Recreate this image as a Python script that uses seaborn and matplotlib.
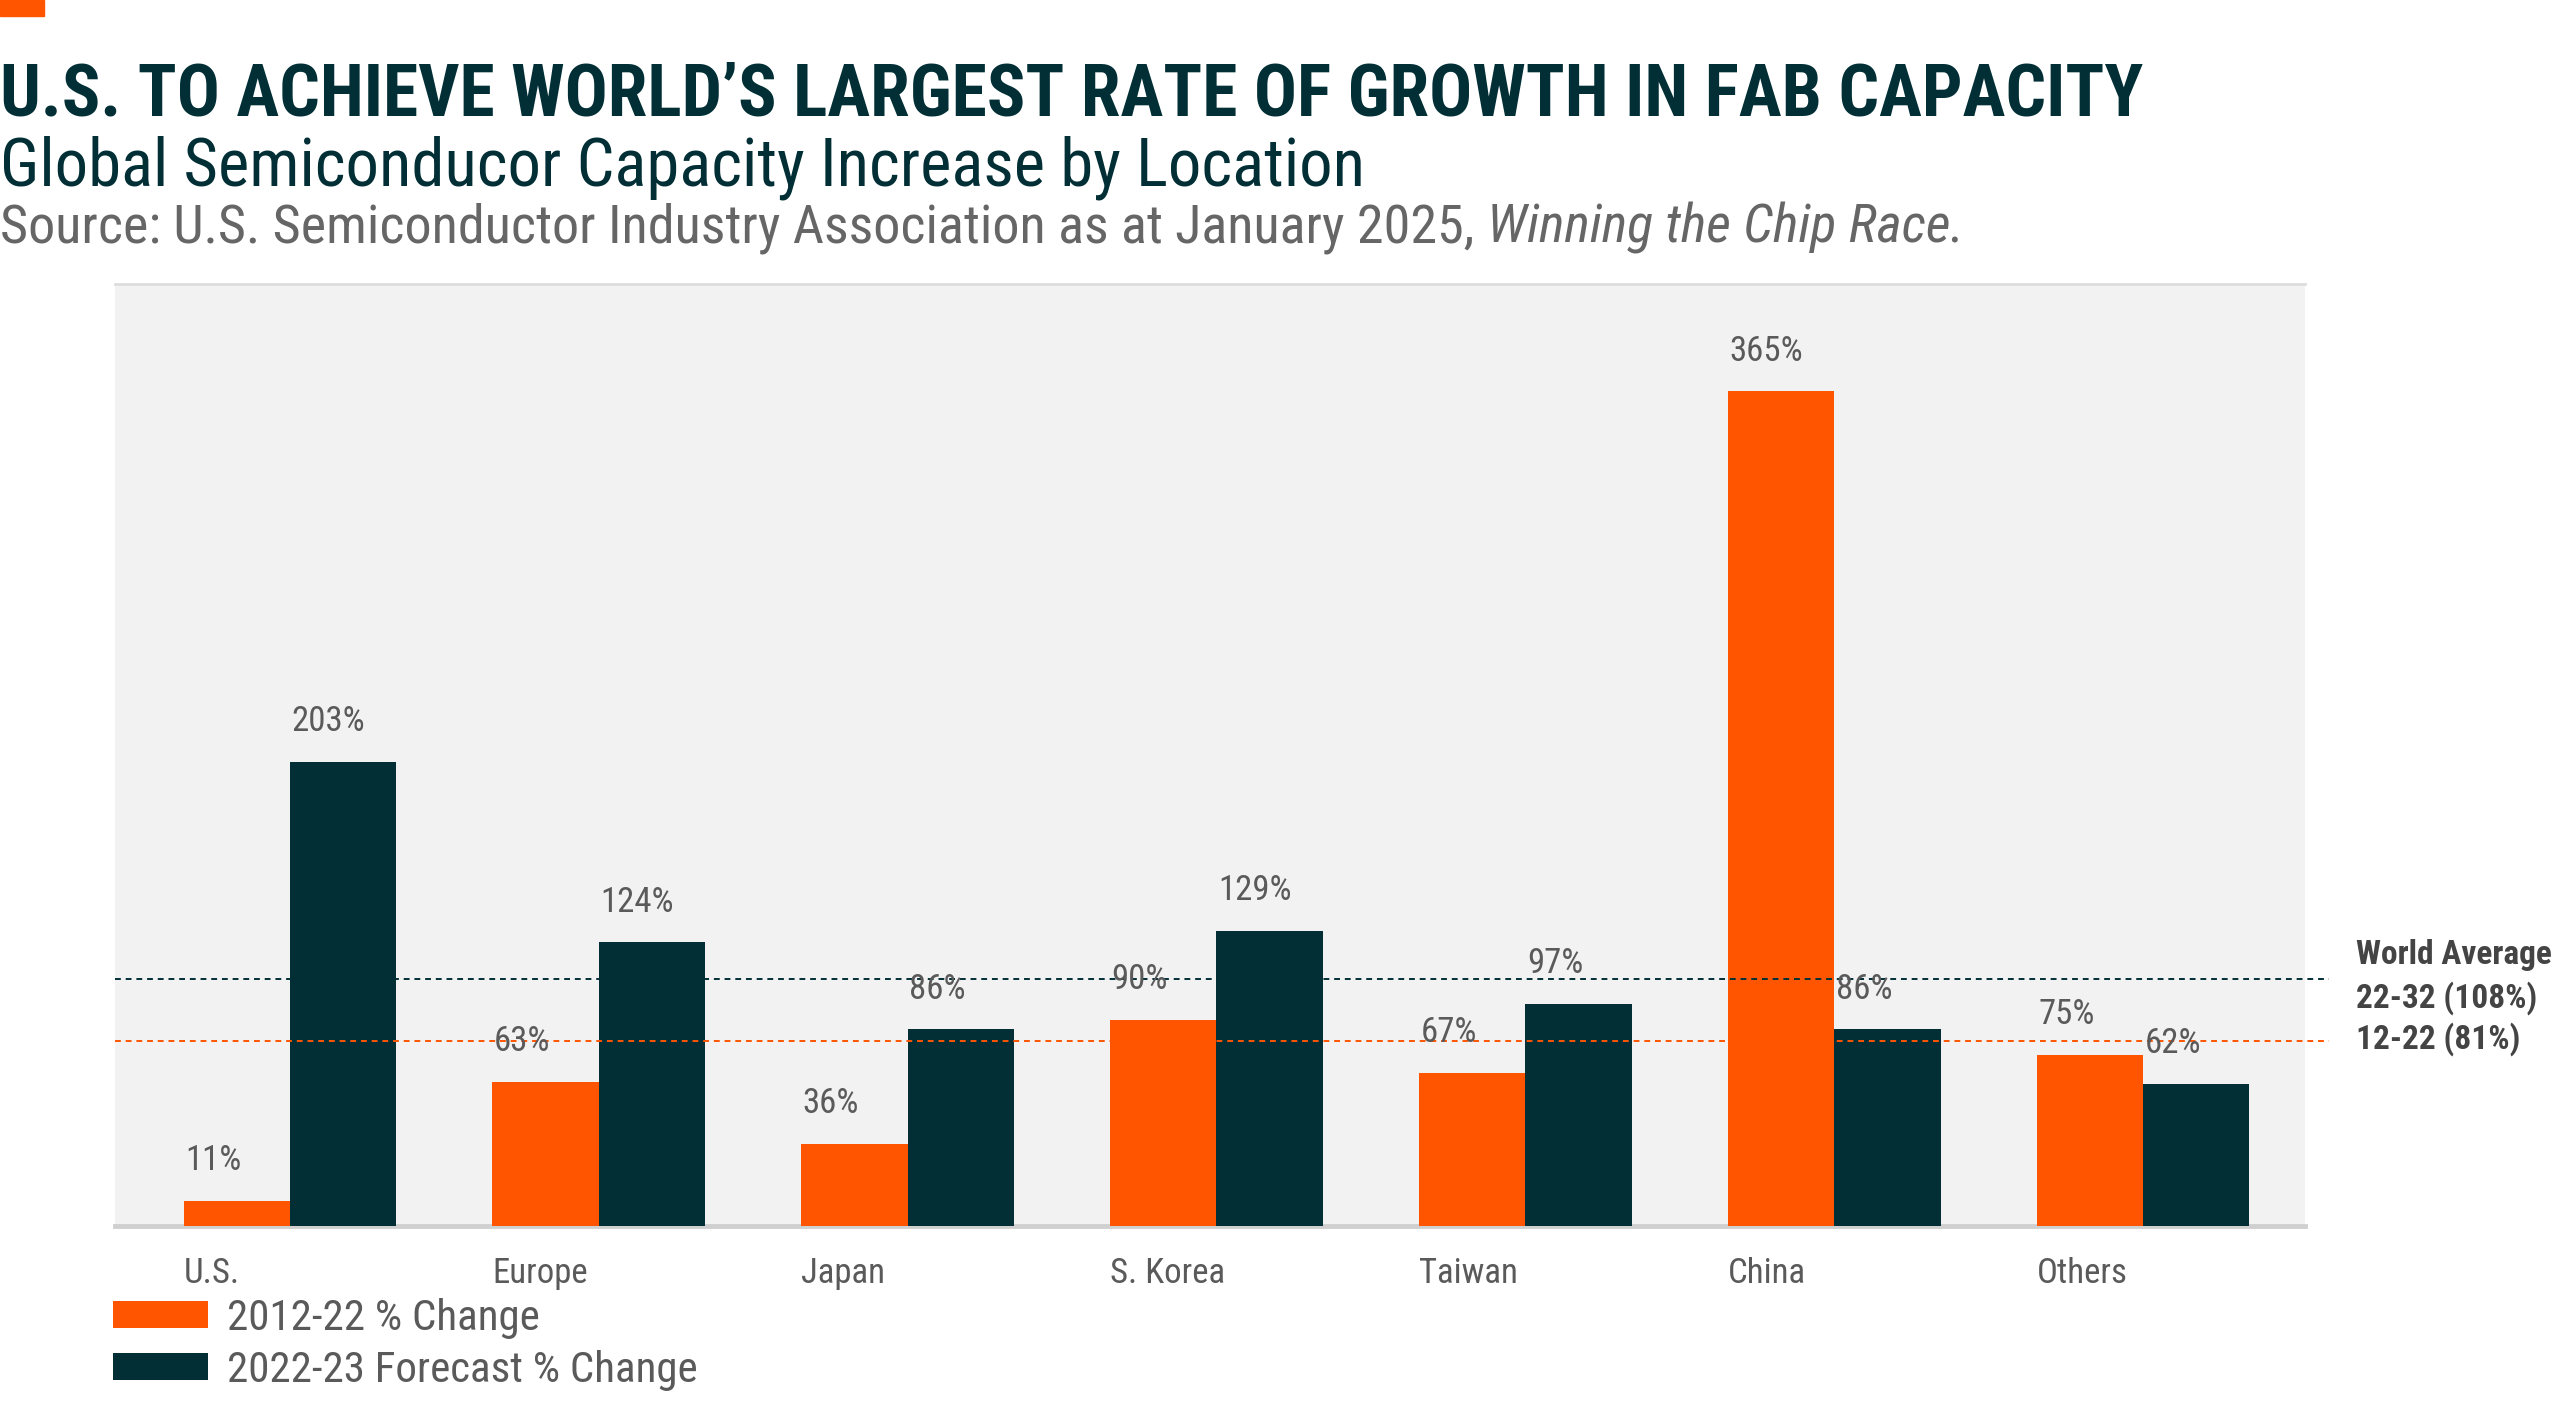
import numpy as np
import pandas as pd
import seaborn as sns
import matplotlib.pyplot as plt
from matplotlib import font_manager

locations = ["U.S.", "Europe", "Japan", "S. Korea", "Taiwan", "China", "Others"]
change_2012_22 = [11, 63, 36, 90, 67, 365, 75]
forecast_2022_32 = [203, 124, 86, 129, 97, 86, 62]
series_names = ["2012-22 % Change", "2022-23 Forecast % Change"]
avg_2022_32 = 108
avg_2012_22 = 81

ORANGE = "#FF5500"
TEAL = "#012F35"
GREY = "#5a5a5a"


def pick_font(names):
    for n in names:
        try:
            font_manager.findfont(font_manager.FontProperties(family=n), fallback_to_default=False)
            return n
        except ValueError:
            pass
    return "DejaVu Sans"


FONT = pick_font(["Roboto Condensed", "Liberation Sans Narrow", "Open Sans Condensed", "Liberation Sans"])

df = pd.DataFrame({
    "Location": locations * 2,
    "Change": change_2012_22 + forecast_2022_32,
    "Series": [series_names[0]] * 7 + [series_names[1]] * 7,
})

sns.set_theme(style="white")
plt.rcParams["font.family"] = [FONT, "DejaVu Sans"]

fig = plt.figure(figsize=(25.6, 14.25), dpi=100)
ax = fig.add_axes([115 / 2560, 1 - 1226 / 1425, 2190 / 2560, 942 / 1425])
ax.set_facecolor("#F2F2F2")

group_w = 0.688
sns.barplot(data=df, x="Location", y="Change", hue="Series", order=locations,
            hue_order=series_names, palette=[ORANGE, TEAL], width=group_w,
            gap=0, saturation=1, linewidth=0, ax=ax, zorder=3)

ax.set_xlim(-0.566, 6.524)
ax.set_ylim(0, 412)
ax.set_ylabel("")
ax.set_xlabel("")
ax.set_yticks([])
for s in ["left", "right"]:
    ax.spines[s].set_visible(False)
ax.spines["top"].set_color("#DDDDDD")
ax.spines["top"].set_linewidth(2)
ax.spines["bottom"].set_color("#D0D0D0")
ax.spines["bottom"].set_linewidth(3.5)

bw = group_w / 2
xpos = np.arange(len(locations))
ax.set_xticks(xpos - bw)
ax.set_xticklabels(locations, ha="left", fontsize=25, color=GREY)
ax.tick_params(axis="x", length=0, pad=22)

# value labels, left aligned over each bar
for i in range(len(locations)):
    for j, vals in enumerate([change_2012_22, forecast_2022_32]):
        ax.annotate(f"{vals[i]}%", xy=(i - bw + j * bw, vals[i]), xytext=(1, 29),
                    textcoords="offset points", ha="left", va="center",
                    fontsize=25, color=GREY, zorder=5)

ax.axhline(avg_2022_32, xmin=0, xmax=1.011, color=TEAL, ls=(0, (3, 2.5)), lw=1.4,
           clip_on=False, zorder=4)
ax.axhline(avg_2012_22, xmin=0, xmax=1.011, color=ORANGE, ls=(0, (3, 2.5)), lw=1.4,
           clip_on=False, zorder=4)

for label, ypx in [("World Average", 955), ("22-32 (108%)", 998), ("12-22 (81%)", 1039)]:
    fig.text(2356 / 2560, 1 - ypx / 1425, label, fontsize=24, color="#444444",
             weight="bold", va="center")

leg = ax.legend(loc="upper left", bbox_to_anchor=(113 / 2560, 1 - 1298 / 1425),
                bbox_transform=fig.transFigure, frameon=False, fontsize=31,
                handlelength=2.2, handleheight=0.58, labelspacing=0.25,
                handletextpad=0.45, borderaxespad=0, borderpad=0)
for t in leg.get_texts():
    t.set_color(GREY)

# header
fig.patches.append(plt.Rectangle((0, 1 - 16 / 1425), 44 / 2560, 16 / 1425,
                                 transform=fig.transFigure, color=ORANGE))
fig.text(0, 1 - 115 / 1425, "U.S. TO ACHIEVE WORLD\u2019S LARGEST RATE OF GROWTH IN FAB CAPACITY",
         fontsize=51.5, weight="bold", color=TEAL, va="baseline")
fig.text(0, 1 - 185 / 1425, "Global Semiconducor Capacity Increase by Location",
         fontsize=48, color=TEAL, va="baseline")
src = fig.text(0, 1 - 242 / 1425, "Source: U.S. Semiconductor Industry Association as at January 2025, ",
               fontsize=39, color="#666666", va="baseline")
fig.canvas.draw()
bb = src.get_window_extent()
fig.text(bb.x1 / 2560, 1 - 242 / 1425, "Winning the Chip Race.", fontsize=39,
         color="#666666", style="italic", va="baseline")

fig.savefig("out.png", dpi=100)
